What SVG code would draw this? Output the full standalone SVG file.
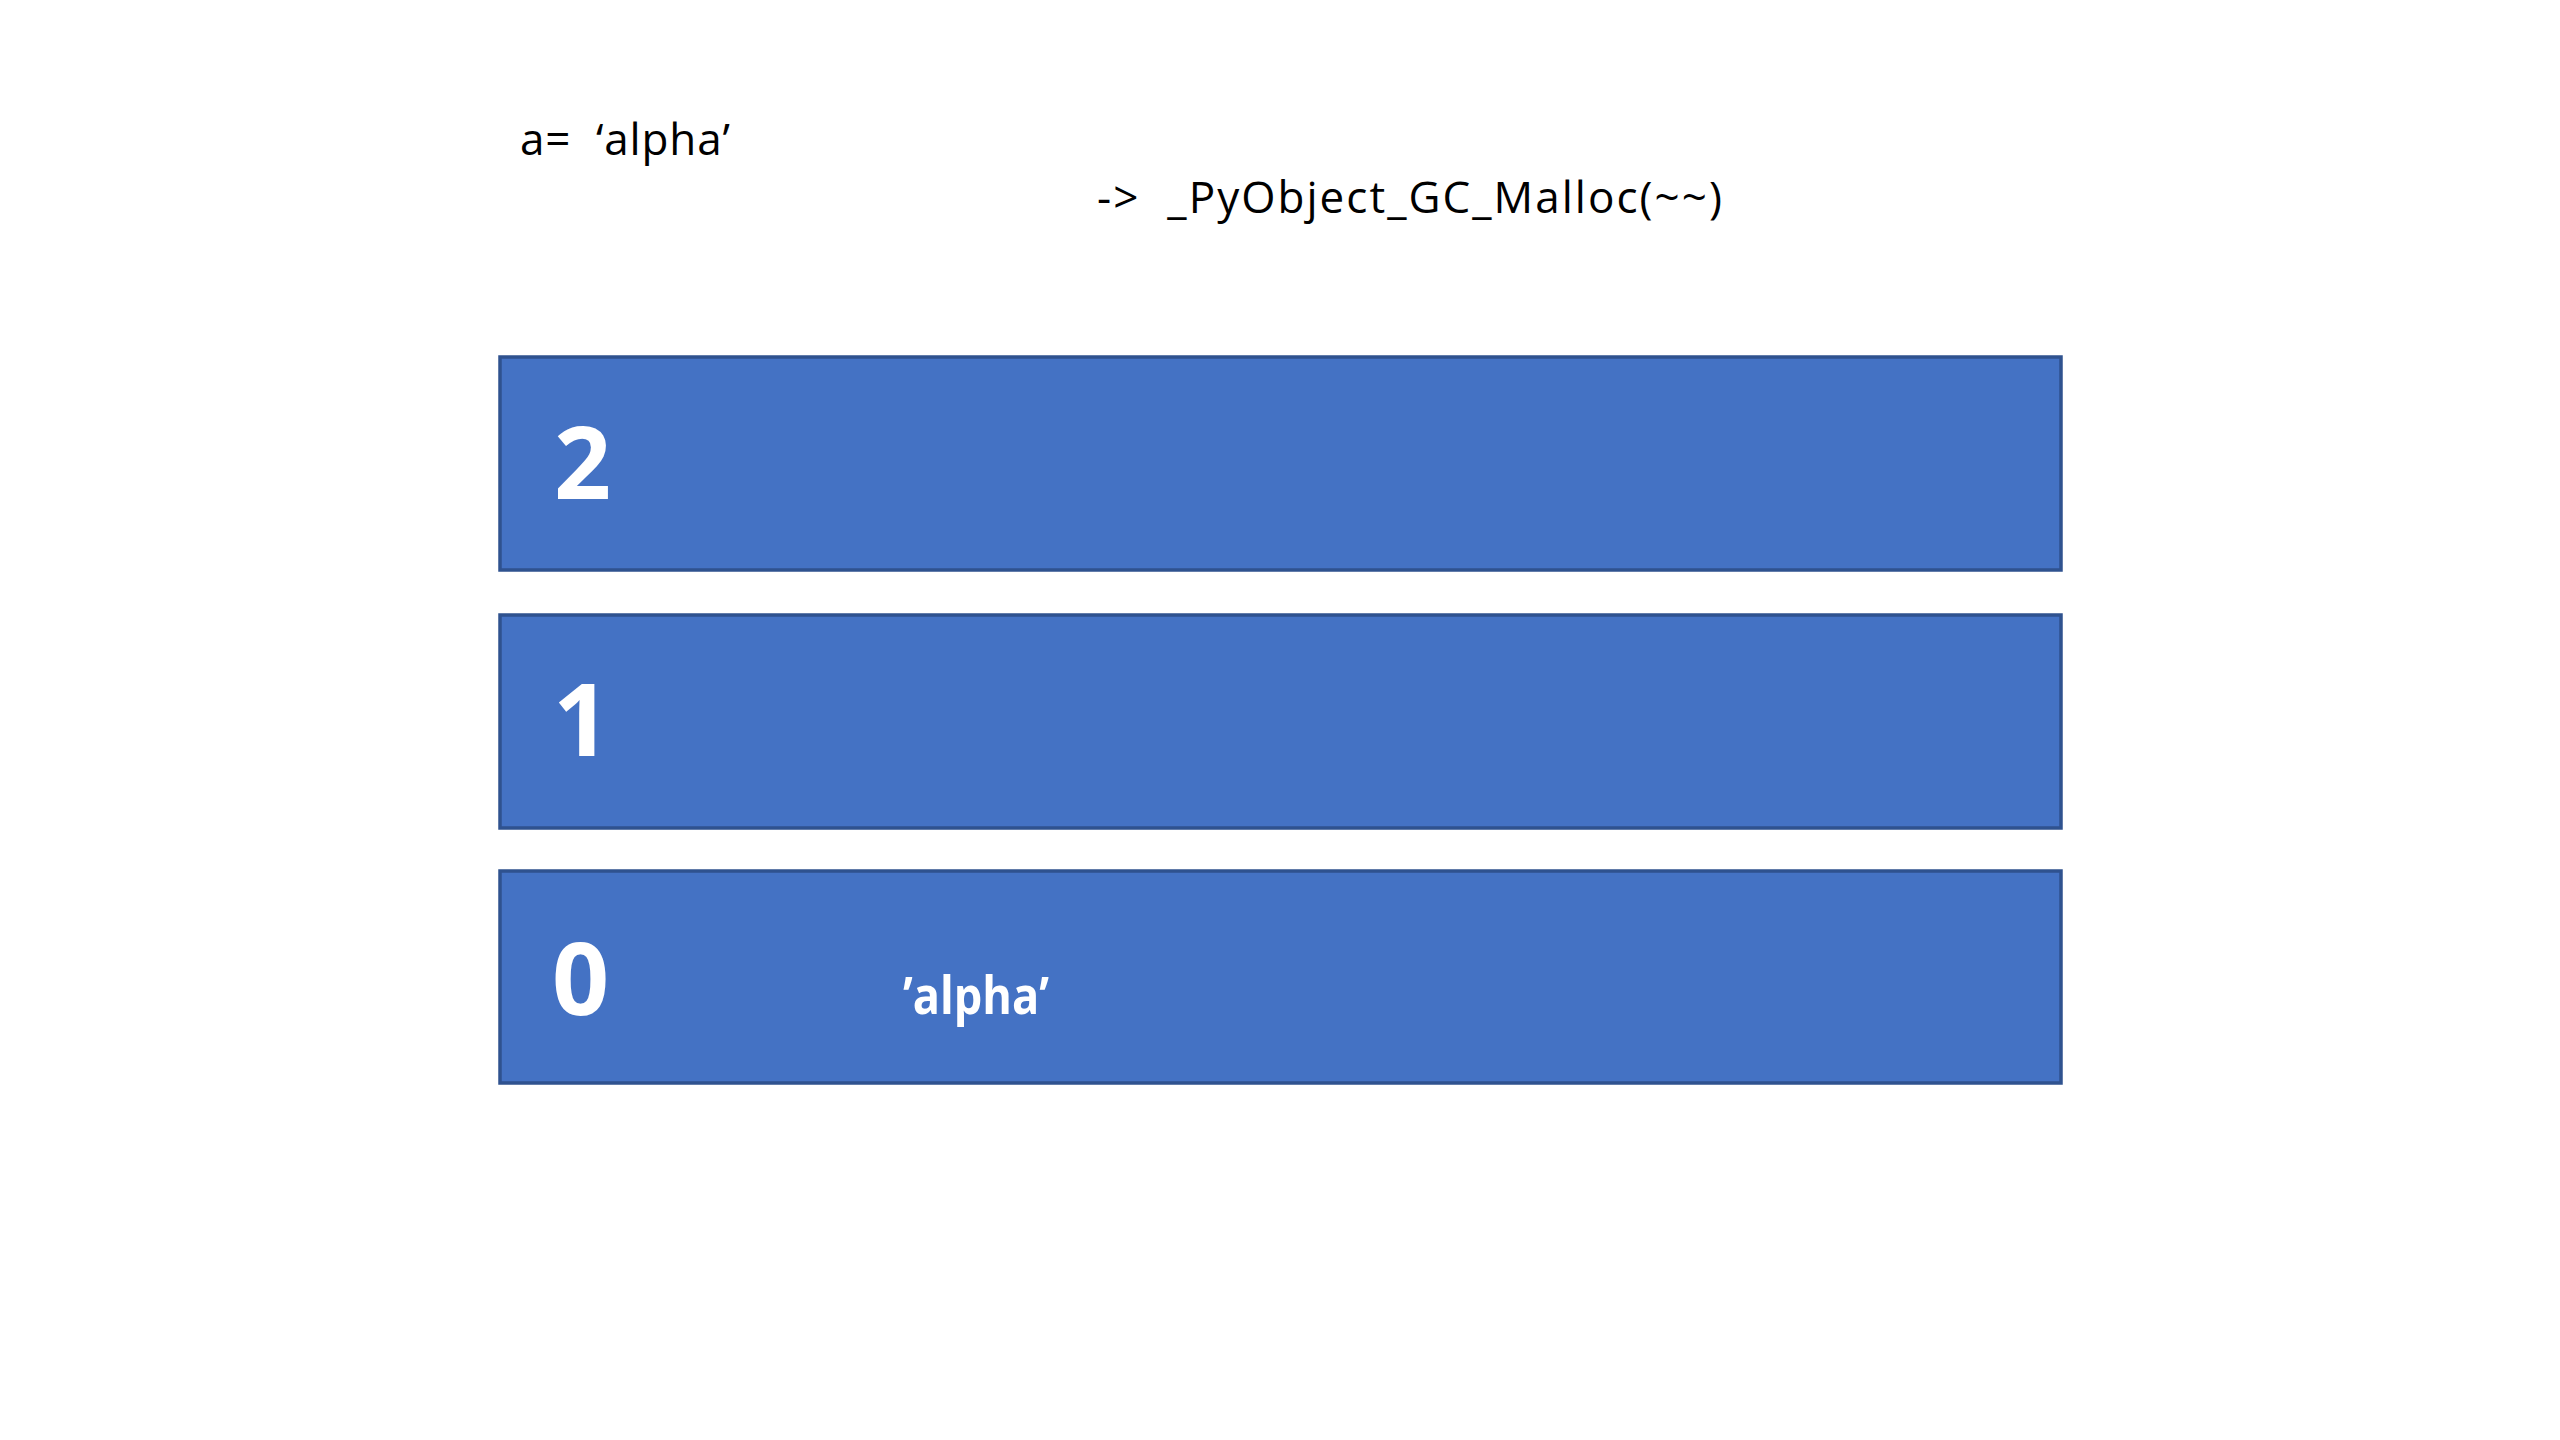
<svg xmlns="http://www.w3.org/2000/svg" width="2560" height="1440" viewBox="0 0 2560 1440">
<style>
.box{fill:#4472C4;stroke:#2F528F;stroke-width:3.5}
.num{font-family:"Open Sans","Noto Sans","Liberation Sans",sans-serif;font-weight:bold;font-size:100px;fill:#FFFFFF}
.lbl{font-family:"Open Sans","Noto Sans","Liberation Sans",sans-serif;font-weight:bold;font-size:52px;fill:#FFFFFF}
.code{font-family:"Open Sans","Noto Sans","Liberation Sans",sans-serif;font-size:44px;fill:#000000}
</style>
<rect width="2560" height="1440" fill="#FFFFFF"/>
<g id="text-assign">
<text class="code" x="520" y="155" textLength="210" lengthAdjust="spacing">a=&#160; ‘alpha’</text>
</g>
<g id="text-malloc">
<text class="code" x="1097" y="213" textLength="625" lengthAdjust="spacing">-&gt;&#160; _PyObject_GC_Malloc(~~)</text>
</g>
<g id="gen2">
<rect class="box" x="500" y="357" width="1561" height="213"/>
<text class="num" x="554" y="499">2</text>
</g>
<g id="gen1">
<rect class="box" x="500" y="615" width="1561" height="213"/>
<text class="num" x="553" y="756">1</text>
</g>
<g id="gen0">
<rect class="box" x="500" y="871" width="1561" height="212"/>
<text class="num" x="552" y="1015">0</text>
<text class="lbl" x="903" y="1014" textLength="146" lengthAdjust="spacingAndGlyphs">’alpha’</text>
</g>
<g id="connectors"/>
</svg>
